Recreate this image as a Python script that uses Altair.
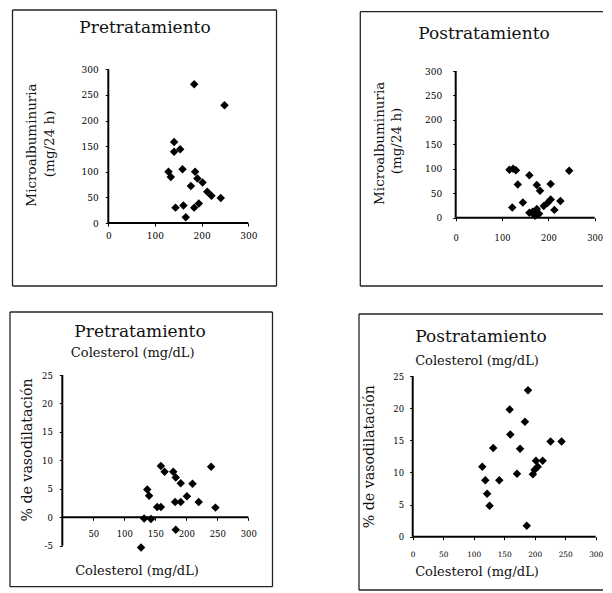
import altair as alt
import pandas as pd

# ---------------- data ----------------
pre_chol_alb = [184, 249, 141, 141, 154, 129, 134, 159, 186, 191, 202, 177, 212, 221, 241, 144, 161, 184, 194, 166]
pre_alb = [271, 230, 158, 139, 144, 100, 90, 105, 100, 87, 79, 72, 61, 53, 49, 30, 34, 30, 38, 11]

post_chol_alb = [116, 124, 130, 159, 134, 175, 182, 205, 245, 122, 145, 159, 166, 175, 171, 180, 190, 198, 205, 213, 226]
post_alb = [98, 100, 97, 87, 68, 67, 55, 69, 96, 21, 31, 10, 12, 18, 4, 8, 24, 30, 37, 16, 34]

pre_chol_vaso = [159, 165, 179, 183, 191, 210, 240, 137, 140, 201, 153, 159, 182, 191, 220, 247, 132, 143, 183, 127]
pre_vaso = [9.0, 8.0, 8.0, 7.0, 6.0, 5.9, 8.9, 4.9, 3.8, 3.7, 1.8, 1.8, 2.7, 2.7, 2.7, 1.7, -0.2, -0.3, -2.2, -5.3]

post_chol_vaso = [189, 159, 184, 160, 226, 244, 132, 176, 114, 202, 213, 205, 119, 142, 171, 197, 200, 122, 126, 187]
post_vaso = [22.8, 19.8, 17.9, 15.9, 14.8, 14.8, 13.8, 13.7, 10.9, 11.8, 11.8, 10.9, 8.8, 8.8, 9.8, 9.7, 10.4, 6.7, 4.8, 1.7]

alb_ticks = [0, 50, 100, 150, 200, 250, 300]
chol_ticks_100 = [0, 100, 200, 300]
chol_ticks_50_no0 = [50, 100, 150, 200, 250, 300]
chol_ticks_50 = [0, 50, 100, 150, 200, 250, 300]
vaso_ticks_pre = [-5, 0, 5, 10, 15, 20, 25]
vaso_ticks_post = [0, 5, 10, 15, 20, 25]

title_pre = "Pretratamiento"
title_post = "Postratamiento"
alb_title = ["Microalbuminuria", "(mg/24 h)"]
vaso_title = "% de vasodilatación"
chol_title = "Colesterol (mg/dL)"

FONT = "DejaVu Serif"
ONE = pd.DataFrame({"k": [0]})


def text_layer(txt, x, y, size, angle=0, baseline="alphabetic"):
    return alt.Chart(ONE).mark_text(
        text=txt, font=FONT, fontSize=size, angle=angle, align="center",
        baseline=baseline, color="#111"
    ).encode(x=alt.value(x), y=alt.value(y))


def rule_layer(x1, x2, y1, y2, color="#222", width=1.3):
    return alt.Chart(ONE).mark_rule(color=color, strokeWidth=width).encode(
        x=alt.value(x1), x2=alt.value(x2), y=alt.value(y1), y2=alt.value(y2)
    )


def panel(cell, xs, ys, xmap, ymap, xspan, yspan, xvals, yvals,
          xpad, ypad, xlab, ylab, frame_sides, texts):
    cx, cy, W, H = cell
    (xa, pxa), (xb, pxb) = xmap
    (ya, pya), (yb, pyb) = ymap
    pxa -= cx; pxb -= cx; pya -= cy; pyb -= cy
    k = (pxb - pxa) / (xb - xa)
    xd = [xa - pxa / k, xa + (W - pxa) / k]
    ky = (pya - pyb) / (yb - ya)
    yd = [ya - (H - pya) / ky, ya + pya / ky]
    px0 = pxa + (0 - xa) * k
    py0 = pya - (0 - ya) * ky

    xscale = alt.Scale(domain=xd, nice=False, zero=False)
    yscale = alt.Scale(domain=yd, nice=False, zero=False)
    lab_expr = "datum.value < 0 ? '-' + abs(datum.value) : '' + datum.value"
    xaxis = alt.Axis(values=xvals, offset=-(H - py0), domain=False, grid=False,
                     tickSize=3, tickColor="black", tickWidth=1,
                     labelFont=FONT, labelFontSize=xlab, labelColor="black",
                     labelPadding=xpad, labelExpr=lab_expr, labelFlush=False)
    yaxis = alt.Axis(values=yvals, offset=-px0, domain=False, grid=False,
                     tickSize=3, tickColor="black", tickWidth=1,
                     labelFont=FONT, labelFontSize=ylab, labelColor="black",
                     labelPadding=ypad, labelExpr=lab_expr)

    hdf = pd.DataFrame({"xs": [xspan[0]], "xe": [xspan[1]], "yv": [0]})
    hline = alt.Chart(hdf).mark_rule(color="black", strokeWidth=2).encode(
        x=alt.X("xs:Q", scale=xscale, axis=xaxis, title=None),
        x2=alt.X2("xe"),
        y=alt.Y("yv:Q", scale=yscale, axis=yaxis, title=None),
    )
    vdf = pd.DataFrame({"xv": [0], "ys": [yspan[0]], "ye": [yspan[1]]})
    vline = alt.Chart(vdf).mark_rule(color="black", strokeWidth=2).encode(
        x=alt.X("xv:Q", scale=xscale, axis=xaxis, title=None),
        y=alt.Y("ys:Q", scale=yscale, axis=yaxis, title=None),
        y2=alt.Y2("ye"),
    )
    df = pd.DataFrame({"x": xs, "y": ys})
    pts = alt.Chart(df).mark_point(shape="diamond", filled=True, size=72,
                                   color="black", opacity=1, strokeWidth=0).encode(
        x=alt.X("x:Q", scale=xscale, axis=xaxis, title=None),
        y=alt.Y("y:Q", scale=yscale, axis=yaxis, title=None),
    )
    layers = []
    for (a, b, c, d) in frame_sides:
        layers.append(rule_layer(a - cx, b - cx, c - cy, d - cy))
    for t in texts:
        txt, tx, ty, size = t[0], t[1], t[2], t[3]
        angle = t[4] if len(t) > 4 else 0
        base = "middle" if angle else "alphabetic"
        layers.append(text_layer(txt, tx - cx, ty - cy, size, angle, base))
    layers += [hline, vline, pts]
    return alt.layer(*layers).properties(width=W, height=H)


# cells in page coordinates: (x0, y0, width, height); total svg width <= 596
C1 = (9, 9, 291, 291)
C2 = (300, 9, 304, 291)
C3 = (9, 300, 291, 292)
C4 = (300, 300, 304, 292)

p1 = panel(C1, pre_chol_alb, pre_alb,
           ((0, 108.3), (300, 248.3)), ((0, 223.0), (300, 69.3)),
           (0, 300), (0, 300), chol_ticks_100, alb_ticks, 5.5, 7, 9, 9,
           [(12.5, 276.5, 10, 10), (12.5, 276.5, 286, 286),
            (12.5, 12.5, 10, 286), (276.5, 276.5, 10, 286)],
           [(title_pre, 145, 33.3, 17),
            (alb_title[0], 31.7, 145, 13.5, 270),
            (alb_title[1], 49.5, 143.8, 13.5, 270)])

p2 = panel(C2, post_chol_alb, post_alb,
           ((0, 455.7), (300, 594.7)), ((0, 217.7), (300, 71.0)),
           (0, 300), (0, 300), chol_ticks_100, alb_ticks, 13, 11, 8.3, 9,
           [(360.3, 603, 11.7, 11.7), (360.3, 603, 286, 286),
            (360.3, 360.3, 11.7, 286)],
           [(title_post, 484, 38.5, 17),
            (alb_title[0], 380, 143.3, 13.5, 270),
            (alb_title[1], 396.7, 141, 13.5, 270)])

p3 = panel(C3, pre_chol_vaso, pre_vaso,
           ((0, 62.3), (300, 248.3)), ((0, 517.3), (25, 375.0)),
           (0, 300), (-5, 25), chol_ticks_50_no0, vaso_ticks_pre, 9, 7, 8.5, 8.5,
           [(10, 272.5, 312, 312), (10, 272.5, 586.7, 586.7),
            (10, 10, 312, 586.7), (272.5, 272.5, 312, 586.7)],
           [(title_pre, 140, 337, 17),
            (chol_title, 132.7, 357.3, 13),
            (vaso_title, 28.3, 450, 14.2, 270),
            (chol_title, 137, 575.3, 13)])

p4 = panel(C4, post_chol_vaso, post_vaso,
           ((0, 412.7), (300, 595.7)), ((0, 536.7), (25, 376.0)),
           (0, 300), (0, 25), chol_ticks_50, vaso_ticks_post, 10.5, 6, 7.4, 8.5,
           [(359, 603, 314, 314), (359, 603, 590, 590),
            (359, 359, 314, 590)],
           [(title_post, 481, 342, 17),
            (chol_title, 477, 364.5, 13),
            (vaso_title, 370, 456.7, 14.2, 270),
            (chol_title, 477, 576, 13)])

row1 = alt.hconcat(p1, p2, spacing=0)
row2 = alt.hconcat(p3, p4, spacing=0)
chart = alt.vconcat(row1, row2, spacing=0).properties(
    padding={"left": 1, "top": 1, "right": 0, "bottom": 0},
    background="white",
).configure(font=FONT).configure_view(stroke="transparent", strokeWidth=0)

chart.save("out.html", embed_options={"renderer": "svg", "actions": False})
